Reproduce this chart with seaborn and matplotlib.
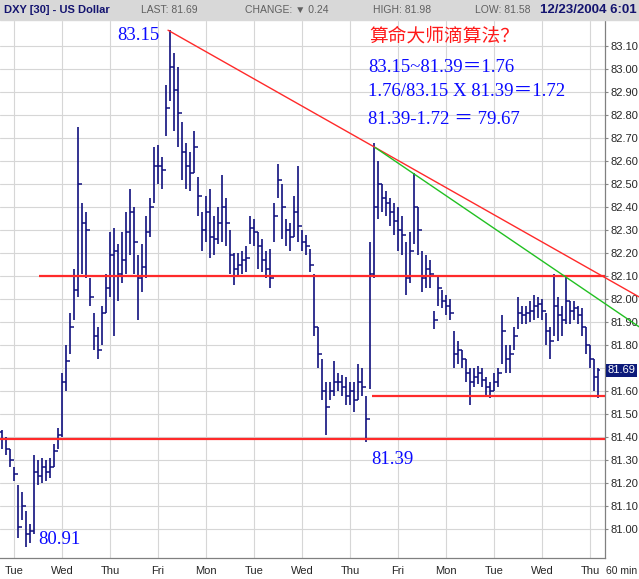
import numpy as np
import pandas as pd
import seaborn as sns
import matplotlib.pyplot as plt

# DXY 60-min chart, one bar per 2 hours
bar_high = [81.43, 81.40, 81.35, 81.27, 81.19, 81.16, 81.08, 81.02, 81.32, 81.30, 81.31, 81.30, 81.31, 81.37, 81.44, 81.68,
            81.80, 81.94, 82.13, 82.75, 82.42, 82.38, 82.09, 81.94, 81.88, 81.97, 82.11, 82.29,
            82.31, 82.24, 82.29, 82.38, 82.48, 82.40, 82.19, 82.24, 82.36, 82.44, 82.66, 82.67,
            82.62, 82.93, 83.17, 83.07, 83.01, 82.77, 82.68, 82.64, 82.73, 82.53, 82.38, 82.45,
            82.48, 82.36, 82.40, 82.54, 82.44, 82.30, 82.20, 82.20, 82.21, 82.23, 82.36, 82.35,
            82.29, 82.26, 82.21, 82.22, 82.42, 82.59, 82.50, 82.35, 82.33, 82.45, 82.58, 82.30,
            82.28, 82.22, 82.11, 81.88, 81.74, 81.64, 81.64, 81.73, 81.68, 81.67, 81.66, 81.64,
            81.64, 81.72, 81.70, 81.58, 82.25, 82.68, 82.60, 82.50, 82.47, 82.44, 82.42, 82.40,
            82.36, 82.25, 82.29, 82.55, 82.40, 82.21, 82.19, 82.17, 81.95, 82.10, 82.04, 82.02,
            82.00, 81.86, 81.82, 81.78, 81.74, 81.70, 81.70, 81.71, 81.70, 81.66, 81.64, 81.68,
            81.70, 81.93, 81.80, 81.80, 81.88, 82.01, 81.97, 81.97, 81.99, 82.02, 82.01, 82.00,
            81.94, 81.88, 82.11, 82.01, 81.97, 82.10, 81.99, 81.99, 81.97, 81.96, 81.88, 81.80,
            81.74, 81.70]
bar_low = [81.35, 81.32, 81.27, 81.21, 80.96, 81.04, 80.92, 80.94, 80.98, 81.19, 81.20, 81.21, 81.22, 81.27, 81.35, 81.40,
           81.60, 81.76, 81.91, 82.01, 82.11, 82.09, 81.97, 81.78, 81.74, 81.80, 81.94, 82.01,
           81.84, 81.99, 82.07, 82.11, 82.19, 82.11, 81.91, 82.03, 82.09, 82.27, 82.42, 82.50,
           82.48, 82.71, 82.86, 82.73, 82.66, 82.52, 82.48, 82.47, 82.55, 82.36, 82.21, 82.25,
           82.18, 82.19, 82.24, 82.25, 82.23, 82.11, 82.06, 82.10, 82.11, 82.12, 82.24, 82.23,
           82.13, 82.12, 82.09, 82.05, 82.25, 82.44, 82.26, 82.23, 82.21, 82.27, 82.25, 82.21,
           82.19, 82.12, 81.84, 81.70, 81.56, 81.41, 81.56, 81.58, 81.60, 81.58, 81.54, 81.54,
           81.51, 81.56, 81.58, 81.38, 81.61, 82.09, 82.35, 82.38, 82.36, 82.32, 82.28, 82.21,
           82.19, 82.02, 82.07, 82.24, 82.19, 82.03, 82.05, 82.05, 81.87, 81.97, 81.96, 81.93,
           81.91, 81.70, 81.72, 81.70, 81.64, 81.54, 81.62, 81.63, 81.62, 81.58, 81.57, 81.60,
           81.62, 81.72, 81.68, 81.68, 81.78, 81.87, 81.89, 81.89, 81.90, 81.91, 81.92, 81.91,
           81.80, 81.74, 81.84, 81.82, 81.84, 81.89, 81.89, 81.91, 81.89, 81.84, 81.76, 81.70,
           81.60, 81.57]
bar_close = [81.39, 81.35, 81.30, 81.24, 81.01, 81.10, 80.98, 80.99, 81.25, 81.23, 81.27, 81.25, 81.27, 81.34, 81.41, 81.64,
             81.73, 81.88, 82.04, 82.50, 82.33, 82.30, 82.01, 81.84, 81.78, 81.94, 82.05, 82.19,
             82.21, 82.11, 82.17, 82.29, 82.38, 82.25, 82.09, 82.14, 82.29, 82.40, 82.58, 82.58,
             82.56, 82.83, 83.01, 82.91, 82.81, 82.64, 82.58, 82.55, 82.66, 82.45, 82.30, 82.38,
             82.27, 82.26, 82.33, 82.40, 82.33, 82.19, 82.13, 82.15, 82.17, 82.18, 82.31, 82.29,
             82.23, 82.17, 82.13, 82.09, 82.36, 82.52, 82.40, 82.30, 82.27, 82.38, 82.32, 82.25,
             82.23, 82.15, 81.88, 81.76, 81.60, 81.53, 81.60, 81.64, 81.64, 81.62, 81.58, 81.60,
             81.56, 81.64, 81.62, 81.48, 82.11, 82.40, 82.50, 82.44, 82.42, 82.38, 82.34, 82.30,
             82.28, 82.09, 82.21, 82.40, 82.30, 82.09, 82.13, 82.11, 81.91, 82.05, 81.99, 81.97,
             81.94, 81.76, 81.78, 81.74, 81.68, 81.64, 81.66, 81.68, 81.65, 81.62, 81.60, 81.64,
             81.68, 81.86, 81.74, 81.76, 81.84, 81.94, 81.93, 81.94, 81.95, 81.97, 81.98, 81.95,
             81.86, 81.82, 81.97, 81.93, 81.91, 81.99, 81.95, 81.96, 81.93, 81.88, 81.80, 81.74,
             81.66, 81.69]
first_open = 81.42

day_labels = ['Tue', 'Wed', 'Thu', 'Fri', 'Mon', 'Tue', 'Wed', 'Thu', 'Fri', 'Mon', 'Tue', 'Wed', 'Thu']
day_start_hours = [7, 31, 55, 79, 103, 127, 151, 175, 199, 223, 247, 271, 295]
price_ticks = [81.0, 81.1, 81.2, 81.3, 81.4, 81.5, 81.6, 81.7, 81.8, 81.9,
               82.0, 82.1, 82.2, 82.3, 82.4, 82.5, 82.6, 82.7, 82.8, 82.9, 83.0, 83.1]

# support / resistance lines (hour start, level)
level_start = [19.5, 0, 186]
level_price = [82.10, 81.39, 81.58]
red_trend_hour = [84, 319.5]
red_trend_price = [83.17, 82.01]
green_trend_hour = [187.5, 319.5]
green_trend_price = [82.66, 81.88]
last_price = 81.69

df = pd.DataFrame({'high': bar_high, 'low': bar_low, 'close': bar_close})
df['hour'] = np.arange(len(df)) * 2 + 1
df['open'] = df['close'].shift(1).fillna(first_open)

sns.set_style('white')
plt.rcParams['font.family'] = ['Liberation Sans', 'DejaVu Sans']

W, H = 639, 579
fig = plt.figure(figsize=(W / 100, H / 100), dpi=100)


def fx(x):
    return x / W


def fy(y):
    return 1 - y / H


ax = fig.add_axes([0, fy(558), 605 / W, (558 - 21) / H])
navy = '#10107e'

ax.vlines(df['hour'], df['low'], df['high'], color=navy, lw=1.2)
ax.hlines(df['open'], df['hour'] - 0.8, df['hour'], color=navy, lw=1.1)
ax.hlines(df['close'], df['hour'], df['hour'] + 0.8, color=navy, lw=1.1)

# horizontal red levels
for start, lvl in zip(level_start, level_price):
    ax.hlines(lvl, start, 302.5, color='#ff2a2a', lw=1.6, zorder=3)

sns.lineplot(x=red_trend_hour, y=red_trend_price, ax=ax, color='#ff2a2a', lw=1.0,
             clip_on=False, zorder=4)
sns.lineplot(x=green_trend_hour, y=green_trend_price, ax=ax, color='#22c022', lw=1.0,
             clip_on=False, zorder=4)

ax.set_xlim(0, 302.5)
ax.set_ylim(80.874, 83.21)
ax.set_yticks(price_ticks)
# the 81.70 label sits under the last-price box
ax.set_yticklabels(['' if abs(v - 81.7) < 1e-6 else f'{v:.2f}' for v in price_ticks])
ax.set_xticks(day_start_hours)
ax.set_xticklabels(day_labels)
ax.yaxis.tick_right()
ax.tick_params(axis='y', length=2, pad=2, labelsize=8, color='#888888')
ax.tick_params(axis='x', length=0, pad=6, labelsize=8)
ax.grid(True, color='#d6d6d6', lw=0.8)
ax.set_axisbelow(True)
for side in ['top', 'left']:
    ax.spines[side].set_visible(False)
for side in ['right', 'bottom']:
    ax.spines[side].set_color('#808080')
    ax.spines[side].set_linewidth(0.9)
ax.set_xlabel('')
ax.set_ylabel('')

# last price box
ax.text(1.004, last_price, f'{last_price:.2f}', transform=ax.get_yaxis_transform(),
        va='center', ha='left', fontsize=8, color='white',
        bbox=dict(boxstyle='square,pad=0.15', fc='#0c1a7a', ec='none'))
fig.text(fx(637), fy(571), '60 min', fontsize=7.5, va='center', ha='right')

# header bar
fig.patches.append(plt.Rectangle((0, fy(20)), 1, 20 / H, transform=fig.transFigure,
                                 color='#d8d8d8', zorder=0))
fig.text(fx(4), fy(10), 'DXY [30] - US Dollar', fontsize=8, fontweight='bold', color='#141470', va='center')
fig.text(fx(141), fy(10), 'LAST: 81.69', fontsize=7.5, color='#606060', va='center')
fig.text(fx(245), fy(10), 'CHANGE: \u25bc 0.24', fontsize=7.5, color='#606060', va='center')
fig.text(fx(373), fy(10), 'HIGH: 81.98', fontsize=7.5, color='#606060', va='center')
fig.text(fx(475), fy(10), 'LOW: 81.58', fontsize=7.5, color='#606060', va='center')
fig.text(fx(637), fy(10), '12/23/2004 6:01', fontsize=9.5, fontweight='bold', color='#141470',
         va='center', ha='right')

# annotations
serif = ['Liberation Serif', 'Noto Sans CJK SC']
blue = '#0a0aff'
fig.text(fx(159), fy(36), '83.15', fontsize=13.5, family=serif, color=blue, ha='right', va='center')
fig.text(fx(392), fy(460), '81.39', fontsize=13.5, family=serif, color=blue, ha='center', va='center')
fig.text(fx(38), fy(540), '80.91', fontsize=13.5, family=serif, color=blue, ha='left', va='center')
fig.text(fx(369), fy(36), '算命大师滴算法？', fontsize=13.5, family=['Noto Sans CJK SC'],
         color='#ff1a1a', ha='left', va='center')
fig.text(fx(368), fy(67), '83.15~81.39＝1.76', fontsize=13.5, family=serif, color=blue, va='center')
fig.text(fx(368), fy(92), '1.76/83.15 X 81.39＝1.72', fontsize=13.5, family=serif, color=blue, va='center')
fig.text(fx(368), fy(120), '81.39-1.72 ＝ 79.67', fontsize=13.5, family=serif, color=blue, va='center')

plt.savefig('out.png', dpi=100)
